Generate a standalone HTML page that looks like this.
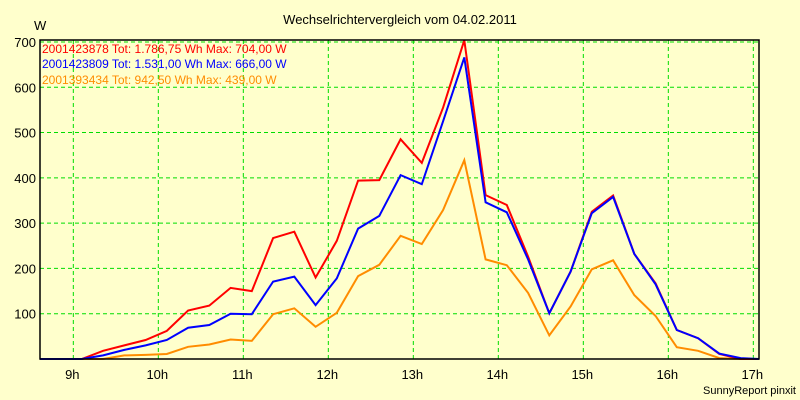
<!DOCTYPE html>
<html><head><meta charset="utf-8"><style>
html,body{margin:0;padding:0;background:#ffffcc;}
svg{display:block;font-family:"Liberation Sans",sans-serif;}
</style></head><body>
<svg id="chart" width="800" height="400">
<rect x="0" y="0" width="800" height="400" fill="#ffffcc"/>
<text x="400" y="24" text-anchor="middle" font-size="13" fill="#000">Wechselrichtervergleich vom 04.02.2011</text>
<text x="34" y="30" font-size="13" fill="#000">W</text>
<g id="grid"></g>
<g id="axes"></g>
<g id="series"></g>
<rect x="40" y="40" width="719" height="319" fill="none" stroke="#000" stroke-width="1.5"/>
<g font-size="12">
<text x="42" y="53" fill="#ff0000">2001423878 Tot: 1.786,75 Wh Max: 704,00 W</text>
<text x="42" y="68" fill="#0000ff">2001423809 Tot: 1.531,00 Wh Max: 666,00 W</text>
<text x="42" y="84" fill="#ff8c00">2001393434 Tot: 942,50 Wh Max: 439,00 W</text>
</g>
<text x="796" y="394" text-anchor="end" font-size="11" fill="#000">SunnyReport pinxit</text>
</svg>
<script>
const times = [8.85,9.1,9.35,9.6,9.85,10.1,10.35,10.6,10.85,11.1,11.35,11.6,11.85,12.1,12.35,12.6,12.85,13.1,13.35,13.6,13.85,14.1,14.35,14.6,14.85,15.1,15.35,15.6,15.85,16.1,16.35,16.6,16.85,17.1,17.35];
const red = [0,0,18,30,42,62,107,118,157,150,267,281,180,261,394,395,485,433,555,704,362,340,226,101,193,325,361,232,167,64,46,11,0,0,0];
const blue = [0,0,8,20,30,42,69,75,100,99,171,182,119,178,288,316,406,386,525,666,346,324,220,101,193,322,358,232,165,64,46,12,2,0,0];
const orange = [0,0,0,8,9,11,27,32,43,40,99,112,71,102,183,208,272,254,329,439,220,207,146,52,116,198,218,141,95,26,18,2,0,0,0];
const yTicks = [100,200,300,400,500,600,700];
const xTicks = [9,10,11,12,13,14,15,16,17];
const NS="http://www.w3.org/2000/svg";
const L=40,R=759,T=40,B=359;
function xs(t){return L+(t-8.608)*85;}
function ys(v){return 359-v*0.4529;}
function mk(tag,attrs,parent){const e=document.createElementNS(NS,tag);for(const k in attrs)e.setAttribute(k,attrs[k]);parent.appendChild(e);return e;}
const grid=document.getElementById('grid'),axes=document.getElementById('axes'),series=document.getElementById('series');
yTicks.forEach(v=>{
 const l=mk('line',{x1:L,x2:R,y1:ys(v),y2:ys(v),stroke:'#00dd00','stroke-dasharray':'4,3','stroke-width':1},grid);
 
 
 const t=mk('text',{x:36,y:ys(v)+5,'text-anchor':'end','font-size':13,fill:'#000'},axes);
 t.textContent=v;
 
 
});
xTicks.forEach(h=>{
 const l=mk('line',{x1:xs(h),x2:xs(h),y1:T,y2:B,stroke:'#00dd00','stroke-dasharray':'4,3','stroke-width':1},grid);
 
 
 const t=mk('text',{x:xs(h)-1,y:379,'text-anchor':'middle','font-size':13,fill:'#000'},axes);
 t.textContent=h+'h';
 
 
});
function draw(vals,color,name){
 let d='M'+L+','+ys(0);
 vals.forEach((v,i)=>{d+=' L'+Math.min(R,xs(times[i])).toFixed(1)+','+ys(v).toFixed(1);});
 d+=' L'+R+','+ys(0);
 const p=mk('path',{d:d,fill:'none',stroke:color,'stroke-width':2,'stroke-linejoin':'miter'},series);
 
 
}
draw(orange,'#ff8c00','series-2001393434-line');
draw(red,'#ff0000','series-2001423878-line');
draw(blue,'#0000ff','series-2001423809-line');
</script>
</body></html>
